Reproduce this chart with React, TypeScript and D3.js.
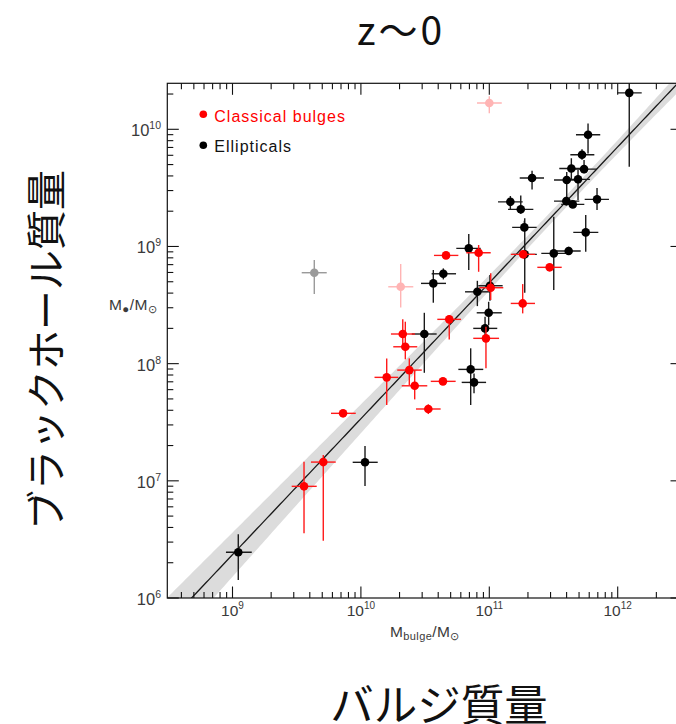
import React from 'react';
import * as d3 from 'd3';

const W = 676;
const H = 724;

const TITLE = 'z〜0';
const Y_TITLE = 'ブラックホール質量';
const X_TITLE = 'バルジ質量';
const LEGEND_LABELS = ['Classical bulges', 'Ellipticals'];

const xMajorExps = [9, 10, 11, 12];
const yMajorExps = [6, 7, 8, 9, 10];

// rows: [log Mbulge, low, high, log MBH, low, high]
const ellipticals = [
  [12.09, 11.997, 12.187, 10.311, 9.68, 10.94],
  [11.769, 11.675, 11.864, 9.953, 9.794, 10.05],
  [11.722, 11.631, 11.818, 9.783, 9.74, 9.83],
  [11.639, 11.545, 11.732, 9.666, 9.567, 9.752],
  [11.738, 11.65, 11.836, 9.66, 9.624, 9.737],
  [11.333, 11.237, 11.426, 9.584, 9.487, 9.646],
  [11.603, 11.504, 11.701, 9.567, 9.4, 9.635],
  [11.691, 11.603, 11.784, 9.573, 9.396, 9.652],
  [11.839, 11.743, 11.932, 9.402, 9.311, 9.498],
  [11.6, 11.504, 11.701, 9.387, 9.35, 9.42],
  [11.65, 11.56, 11.74, 9.359, 9.33, 9.39],
  [11.164, 11.068, 11.26, 9.381, 9.317, 9.43],
  [11.245, 11.146, 11.343, 9.317, 9.28, 9.436],
  [11.273, 11.178, 11.369, 9.163, 9.13, 9.219],
  [11.751, 11.654, 11.849, 9.12, 8.955, 9.268],
  [10.84, 10.743, 10.933, 8.984, 8.799, 9.106],
  [11.276, 11.18, 11.37, 8.933, 8.605, 9.241],
  [11.502, 11.405, 11.597, 8.941, 8.628, 9.253],
  [11.618, 11.525, 11.712, 8.961, 8.927, 8.998],
  [10.642, 10.551, 10.741, 8.767, 8.719, 8.813],
  [10.564, 10.468, 10.663, 8.685, 8.52, 8.799],
  [10.907, 10.811, 11.011, 8.613, 8.491, 8.707],
  [11.005, 10.914, 11.104, 8.665, 8.537, 8.756],
  [10.995, 10.902, 11.097, 8.434, 8.329, 8.528],
  [10.967, 10.875, 11.062, 8.301, 8.216, 8.4],
  [10.494, 10.396, 10.59, 8.253, 7.922, 8.434],
  [10.855, 10.759, 10.953, 7.951, 7.647, 8.131],
  [10.881, 10.785, 10.975, 7.84, 7.747, 7.917],
  [10.032, 9.936, 10.131, 7.158, 6.956, 7.297],
  [9.045, 8.949, 9.15, 6.39, 6.154, 6.544],
];

const classicalBulges = [
  [10.663, 10.569, 10.759, 8.924, 8.9, 8.95],
  [10.917, 10.821, 11.011, 8.946, 8.784, 9.012],
  [11.264, 11.168, 11.358, 8.933, 8.91, 8.96],
  [11.47, 11.374, 11.564, 8.822, 8.8, 8.85],
  [11.011, 10.922, 11.109, 8.648, 8.543, 8.771],
  [11.26, 11.167, 11.356, 8.514, 8.429, 8.679],
  [10.688, 10.595, 10.78, 8.378, 8.207, 8.415],
  [10.974, 10.875, 11.076, 8.216, 7.96, 8.315],
  [10.326, 10.234, 10.421, 8.253, 8.159, 8.378],
  [10.346, 10.252, 10.439, 8.144, 8.037, 8.358],
  [10.201, 10.106, 10.291, 7.883, 7.647, 8.045],
  [10.377, 10.283, 10.474, 7.945, 7.817, 8.045],
  [10.419, 10.318, 10.517, 7.811, 7.695, 7.945],
  [10.639, 10.544, 10.738, 7.849, 7.83, 7.87],
  [10.525, 10.429, 10.621, 7.613, 7.57, 7.653],
  [9.861, 9.767, 9.96, 7.576, 7.56, 7.59],
  [9.557, 9.461, 9.656, 6.953, 6.552, 7.163],
  [9.707, 9.611, 9.804, 7.16, 6.489, 7.22],
];

const fadedBulges = [
  [11.0, 10.904, 11.097, 10.224, 10.136, 10.283],
  [10.31, 10.213, 10.408, 8.656, 8.48, 8.85],
];

const fadedEllipticals = [
  [9.637, 9.539, 9.734, 8.776, 8.594, 8.884],
];

// fit: log MBH = intercept + slope * (log Mbulge - pivot)
const fitIntercept = 8.69;
const fitSlope = 1.16;
const fitPivot = 11;
const bandA = 0.05;
const bandB = 0.07;
const bandPivot = 11.6;

const L = 167.3;
const R = 682;
const T = 83.3;
const B = 598;

const xs = d3.scaleLog().domain([1e9, 1e12]).range([232.5, 617.7]);
const ys = d3.scaleLog().domain([1e6, 1e10]).range([598, 129.3]);
const X = (l: number) => xs(Math.pow(10, l));
const Y = (l: number) => ys(Math.pow(10, l));

const NUM_FONT = "'Liberation Sans', Arial, sans-serif";
const CJK_FONT = "'Noto Sans CJK JP', 'Noto Sans CJK SC', sans-serif";

function Points({ data, color, barColor }: { data: number[][]; color: string; barColor: string }) {
  return (
    <g>
      {data.map((d, i) => (
        <g key={'e' + i} stroke={barColor} strokeWidth={1.4}>
          <line x1={X(d[1])} x2={X(d[2])} y1={Y(d[3])} y2={Y(d[3])} />
          <line x1={X(d[0])} x2={X(d[0])} y1={Y(d[4])} y2={Y(d[5])} />
        </g>
      ))}
      {data.map((d, i) => (
        <circle key={'c' + i} cx={X(d[0])} cy={Y(d[3])} r={4.3} fill={color} />
      ))}
    </g>
  );
}

export default function App() {
  const lxMin = Math.log10(xs.invert(L));
  const lxMax = Math.log10(xs.invert(R));
  const samples = d3.range(0, 201).map((i) => lxMin + ((lxMax - lxMin) * i) / 200);
  const fit = (lx: number) => fitIntercept + fitSlope * (lx - fitPivot);
  const hw = (lx: number) => Math.sqrt(bandA * bandA + Math.pow(bandB * (lx - bandPivot), 2));
  const bandArea = d3
    .area<number>()
    .x((lx) => X(lx))
    .y0((lx) => Y(fit(lx) - hw(lx)))
    .y1((lx) => Y(fit(lx) + hw(lx)));
  const fitLine = d3
    .line<number>()
    .x((lx) => X(lx))
    .y((lx) => Y(fit(lx)));

  const xMinor: number[] = [];
  for (let e = 8; e <= 12; e++) {
    for (let m = 2; m <= 9; m++) {
      const px = xs(m * Math.pow(10, e));
      if (px > L + 0.5 && px < R - 0.5) xMinor.push(px);
    }
  }
  const yMinor: number[] = [];
  for (let e = 6; e <= 10; e++) {
    for (let m = 2; m <= 9; m++) {
      const py = ys(m * Math.pow(10, e));
      if (py < B - 0.5 && py > T + 0.5) yMinor.push(py);
    }
  }
  const MAJ = 11.5;
  const MIN = 6;
  const axisColor = '#111';
  const labelColor = '#3a3a3a';

  return (
    <svg width={W} height={H} style={{ position: 'absolute', left: 0, top: 0 }} xmlns="http://www.w3.org/2000/svg">
      <rect x={0} y={0} width={W} height={H} fill="#fff" />
      <defs>
        <clipPath id="plotClip">
          <rect x={L} y={T} width={R - L} height={B - T} />
        </clipPath>
      </defs>

      <text x={401} y={45} textAnchor="middle" fontFamily={CJK_FONT} fontSize={39} letterSpacing={3} fill="#111">
        {TITLE}
      </text>

      <g clipPath="url(#plotClip)">
        <path d={bandArea(samples) || ''} fill="#dcdcdc" />
        <path d={fitLine(samples) || ''} fill="none" stroke="#1a1a1a" strokeWidth={1.3} />
        <Points data={fadedEllipticals} color="#9a9a9a" barColor="#9a9a9a" />
        <Points data={fadedBulges} color="#ffb4b4" barColor="#ffb4b4" />
        <Points data={ellipticals} color="#000" barColor="#1a1a1a" />
        <Points data={classicalBulges} color="#ff0000" barColor="#ff1a1a" />
      </g>

      {/* frame */}
      <rect x={L} y={T} width={R - L} height={B - T} fill="none" stroke={axisColor} strokeWidth={1.2} />

      {/* x ticks */}
      {xMajorExps.map((e) => {
        const px = xs(Math.pow(10, e));
        return (
          <g key={'xm' + e} stroke={axisColor} strokeWidth={1.1}>
            <line x1={px} x2={px} y1={B} y2={B - MAJ} />
            <line x1={px} x2={px} y1={T} y2={T + MAJ} />
          </g>
        );
      })}
      {xMinor.map((px, i) => (
        <g key={'xn' + i} stroke={axisColor} strokeWidth={1.1}>
          <line x1={px} x2={px} y1={B} y2={B - MIN} />
          <line x1={px} x2={px} y1={T} y2={T + MIN} />
        </g>
      ))}
      {/* y ticks */}
      {yMajorExps.map((e) => {
        const py = ys(Math.pow(10, e));
        return (
          <g key={'ym' + e} stroke={axisColor} strokeWidth={1.1}>
            <line x1={L} x2={L + MAJ} y1={py} y2={py} />
            <line x1={R} x2={R - MAJ} y1={py} y2={py} />
          </g>
        );
      })}
      {yMinor.map((py, i) => (
        <g key={'yn' + i} stroke={axisColor} strokeWidth={1.1}>
          <line x1={L} x2={L + MIN} y1={py} y2={py} />
          <line x1={R} x2={R - MIN} y1={py} y2={py} />
        </g>
      ))}

      {/* tick labels */}
      {xMajorExps.map((e) => (
        <text key={'xl' + e} x={xs(Math.pow(10, e))} y={616} textAnchor="middle" fontFamily={NUM_FONT} fontSize={15.5} fill={labelColor}>
          10<tspan dy={-7} fontSize={10}>{e}</tspan>
        </text>
      ))}
      {yMajorExps.map((e) => (
        <text key={'yl' + e} x={161} y={ys(Math.pow(10, e)) + 7} textAnchor="end" fontFamily={NUM_FONT} fontSize={16.5} fill={labelColor}>
          10<tspan dy={-7} fontSize={10.5}>{e}</tspan>
        </text>
      ))}

      {/* axis unit labels */}
      <text x={390} y={637} fontFamily={NUM_FONT} fontSize={15.5} letterSpacing={0.4} fill={labelColor}>
        M<tspan dy={3} fontSize={11}>bulge</tspan>
        <tspan dy={-3}>/M</tspan>
        <tspan dy={3} fontSize={11}>⊙</tspan>
      </text>
      <text x={109} y={309.5} fontFamily={NUM_FONT} fontSize={15.5} letterSpacing={0.4} fill={labelColor}>
        M<tspan dy={3} fontSize={11.5}>●</tspan>
        <tspan dy={-3}>/M</tspan>
        <tspan dy={3} fontSize={11}>⊙</tspan>
      </text>

      {/* legend */}
      <circle cx={203.3} cy={114.3} r={3.8} fill="#ff0000" />
      <text x={214.3} y={121.5} fontFamily={NUM_FONT} fontSize={16} letterSpacing={1} fill="#ff0000">
        {LEGEND_LABELS[0]}
      </text>
      <circle cx={203.3} cy={145.3} r={3.8} fill="#000" />
      <text x={214.3} y={152.3} fontFamily={NUM_FONT} fontSize={16} letterSpacing={1} fill="#111">
        {LEGEND_LABELS[1]}
      </text>

      {/* titles */}
      <text
        x={44}
        y={350}
        transform="rotate(-90 44 350)"
        textAnchor="middle"
        dominantBaseline="central"
        fontFamily={CJK_FONT}
        fontSize={40}
        fill="#111"
      >
        {Y_TITLE}
      </text>
      <text x={439} y={702} textAnchor="middle" dominantBaseline="central" fontFamily={CJK_FONT} fontSize={43.5} fill="#111">
        {X_TITLE}
      </text>
    </svg>
  );
}
